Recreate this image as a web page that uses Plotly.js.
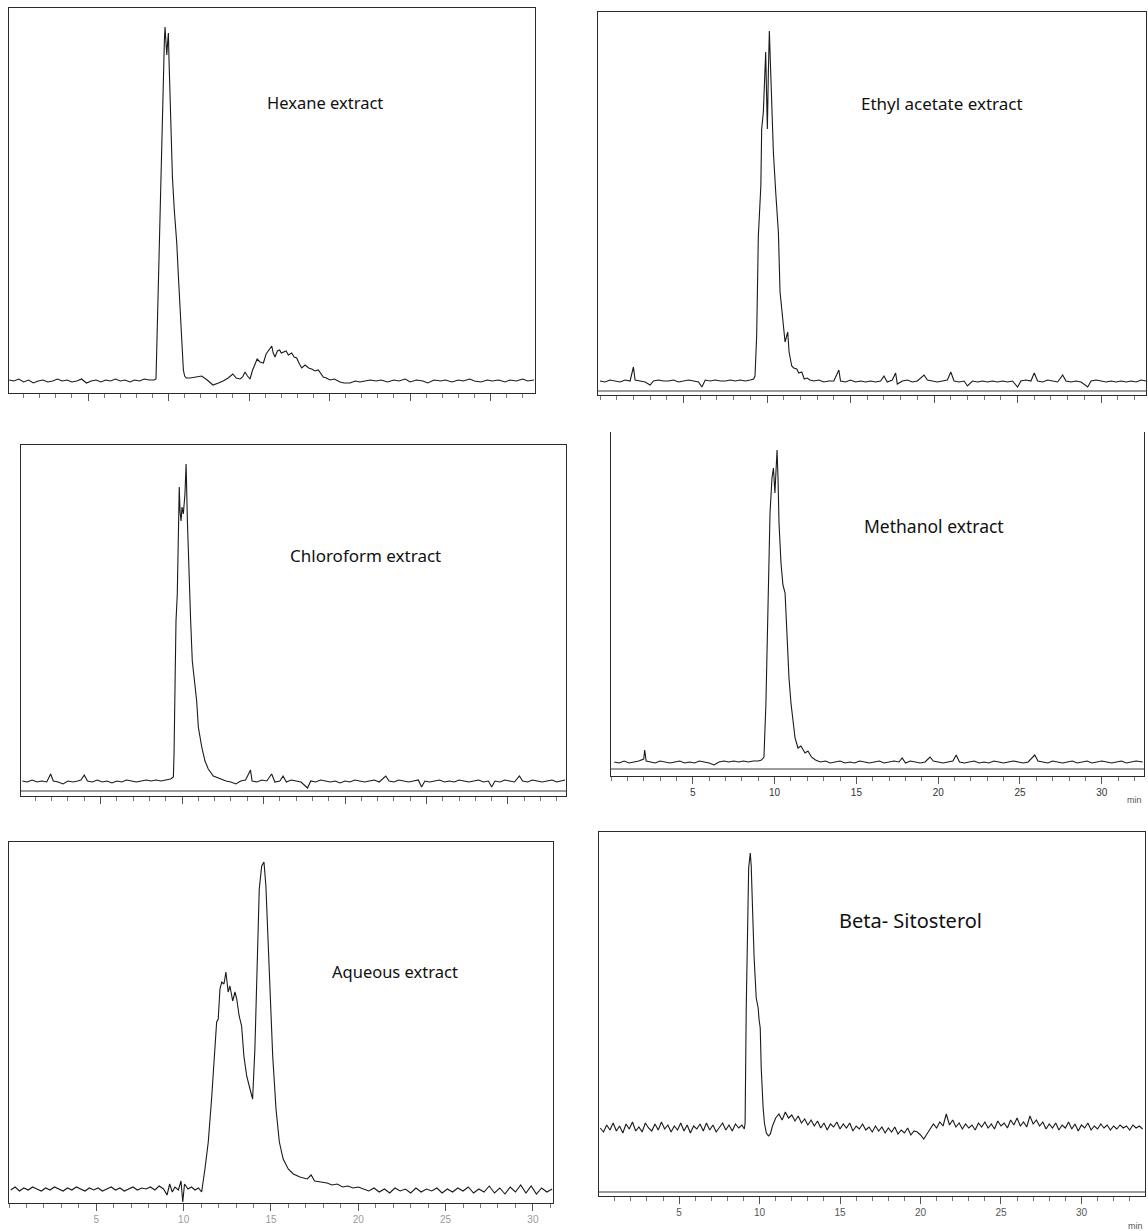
<!DOCTYPE html>
<html>
<head>
<meta charset="utf-8">
<script src="https://cdn.plot.ly/plotly-3.0.1.min.js"></script>
<style>
html,body{margin:0;padding:0;background:#fff;}
#chart{width:1148px;height:1231px;}
</style>
</head>
<body>
<div id="chart"></div>
<script>
// ---------- DATA (retention time in min, detector signal in arbitrary units above baseline) ----------
var panelTitles = ["Hexane extract", "Ethyl acetate extract", "Chloroform extract", "Methanol extract", "Aqueous extract", "Beta- Sitosterol"];
var timeTickLabels = ["5", "10", "15", "20", "25", "30"];
var timeTickValues = [5, 10, 15, 20, 25, 30];

var hexaneTime = [0.1,0.4,0.7,1.0,1.3,1.6,1.9,2.2,2.5,2.8,3.1,3.4,3.7,4.0,4.3,4.6,4.9,5.2,5.5,5.8,6.1,6.4,6.7,7.0,7.3,7.6,7.9,8.2,8.5,8.8,9.1,
  9.22,9.28,9.37,9.45,9.52,9.62,9.68,9.74,9.78,9.84,9.89,9.94,9.99,10.03,10.09,10.16,10.24,10.36,10.51,10.61,10.71,10.77,10.82,10.92,11.0,11.1,
  11.34,11.7,12.06,12.4,12.76,13.1,13.39,13.7,13.99,14.2,14.44,14.6,14.75,14.9,15.06,15.2,15.37,15.5,15.68,15.89,16.06,16.2,16.41,16.5,16.61,16.76,16.9,17.0,17.13,17.3,17.44,17.65,17.8,17.96,18.1,18.27,18.48,18.7,18.89,19.1,19.3,19.45,19.61,19.8,20.03,20.3,20.65,20.9,21.27,21.6,21.89,22.2,22.52,
  22.9,23.2,23.6,24.0,24.3,24.7,25.0,25.4,25.8,26.1,26.5,26.9,27.2,27.6,28.0,28.3,28.7,29.0,29.4,29.8,30.1,30.5,30.9,31.2,31.6,32.0,32.3,32.7];
var hexaneSignal = [1,0,2,-1,1,-2,0,1,-1,0,2,0,1,-1,0,2,-2,0,1,-1,1,0,2,0,1,-1,1,0,2,1,1,
  2,40,104,160,204,271,321,340,354,335,326,338,348,320,278,240,204,170,138,105,71,50,31,11,5,3,
  3,4,5,1,-4,-2,0,3,7,3,2,4,9,5,2,10,18,22,19,18,27,30,35,28,24,30,31,28,29,30,26,28,24,23,18,13,16,13,12,10,11,7,4,3,1,2,-1,-2,-2,0,-1,0,1,
  0,1,-1,1,0,2,-1,1,0,-2,1,0,1,-1,1,0,2,0,-1,1,0,1,-1,1,0,2,0,1];

var ethylTime = [0.0,0.3,0.6,0.9,1.2,1.5,1.8,2.0,2.1,2.4,2.7,3.0,3.2,3.5,3.8,4.1,4.4,4.7,5.0,5.3,5.6,5.9,6.1,6.3,6.6,6.9,7.2,7.5,7.8,8.1,8.4,8.7,9.0,9.2,
  9.28,9.38,9.48,9.58,9.63,9.68,9.78,9.85,9.92,9.97,10.02,10.08,10.14,10.2,10.28,10.38,10.52,10.62,10.68,10.78,10.92,11.08,11.24,11.32,11.48,11.6,11.78,11.9,12.08,12.23,12.4,12.57,
  12.8,13.1,13.4,13.7,14.0,14.3,14.4,14.7,15.0,15.3,15.6,15.9,16.2,16.5,16.8,17.0,17.2,17.5,17.7,17.8,18.1,18.4,18.7,19.0,19.4,19.6,19.9,20.2,20.5,20.8,21.0,21.2,21.5,21.8,22.0,22.3,22.6,22.9,23.2,23.5,23.8,24.1,24.4,24.7,25.0,25.2,25.5,25.8,26.0,26.2,26.5,26.8,27.1,27.4,27.7,27.9,28.2,28.5,28.8,29.2,29.4,29.7,30.0,30.3,30.6,30.9,31.2,31.5,31.8,32.1,32.4,32.7];
var ethylSignal = [1,0,2,1,0,2,1,15,2,1,0,-3,1,2,1,1,2,0,1,2,1,0,-5,2,1,2,1,1,2,1,2,1,2,3,
  6,46,146,176,196,253,270,300,330,290,253,310,351,320,280,230,190,163,150,90,63,40,50,30,16,14,13,9,10,3,4,2,
  1,2,0,1,1,12,1,0,2,0,1,0,1,0,1,6,0,2,9,-2,1,2,0,1,7,2,1,0,1,2,10,1,0,1,-4,1,0,1,0,1,0,1,0,1,-5,1,2,1,9,1,0,2,1,0,7,1,0,1,0,-5,1,2,1,0,1,0,1,0,1,0,2,1];

var chloroformTime = [0.2,0.5,0.8,1.1,1.4,1.7,1.94,2.1,2.4,2.7,3.0,3.3,3.6,3.8,4.0,4.2,4.5,4.8,5.1,5.4,5.7,6.0,6.3,6.6,6.9,7.2,7.5,7.8,8.1,8.4,8.7,9.0,9.3,9.47,
  9.51,9.57,9.63,9.71,9.77,9.83,9.88,9.94,10.0,10.08,10.18,10.25,10.33,10.41,10.53,10.63,10.8,10.9,11.0,11.21,11.41,11.61,11.92,12.33,
  12.7,13.0,13.3,13.6,13.9,14.2,14.3,14.6,14.9,15.2,15.5,15.7,16.0,16.2,16.4,16.7,17.0,17.3,17.7,17.9,18.2,18.5,18.8,19.1,19.4,19.7,20.0,20.3,20.6,20.9,21.2,21.5,21.8,22.1,22.5,22.7,23.0,23.3,23.6,23.9,24.2,24.5,24.7,24.9,25.2,25.5,25.8,26.1,26.4,26.7,27.0,27.3,27.6,27.9,28.2,28.5,28.8,29.0,29.2,29.5,29.8,30.1,30.4,30.7,30.9,31.2,31.5,31.8,32.1,32.4,32.7,33.0,33.3,33.5];
var chloroformSignal = [1,0,2,0,1,0,8,1,0,-2,1,0,1,2,7,1,0,2,0,1,-1,1,0,2,1,0,1,2,1,2,1,2,3,5,
  28,95,161,188,235,295,270,261,275,268,288,318,261,211,161,121,95,81,55,35,21,13,6,3,
  1,0,-2,1,2,12,1,0,2,1,8,0,1,6,0,2,1,0,-6,1,0,2,1,0,1,-1,1,0,2,1,0,1,2,0,6,1,0,2,1,0,1,2,-5,1,0,1,2,0,1,0,2,1,0,1,2,0,1,-5,1,0,2,1,0,6,1,0,2,1,0,1,2,0,1,2];

var methanolTime = [0.2,0.5,0.8,1.1,1.4,1.7,2.0,2.06,2.15,2.4,2.7,3.0,3.3,3.6,3.9,4.2,4.5,4.8,5.1,5.4,5.7,6.0,6.3,6.6,6.9,7.2,7.5,7.8,8.1,8.4,8.7,9.0,9.2,
  9.35,9.47,9.6,9.72,9.84,9.93,10.02,10.09,10.15,10.21,10.27,10.39,10.51,10.64,10.76,10.88,11.0,11.12,11.25,11.43,11.61,11.86,12.04,12.25,12.5,
  12.8,13.1,13.4,13.7,14.0,14.3,14.6,14.9,15.2,15.5,15.8,16.1,16.4,16.7,17.0,17.3,17.6,17.8,18.0,18.3,18.6,18.9,19.2,19.5,19.7,20.0,20.3,20.6,20.9,21.1,21.3,21.6,21.9,22.2,22.5,22.8,23.1,23.4,23.7,24.0,24.3,24.6,24.9,25.2,25.5,25.9,26.1,26.4,26.7,27.0,27.3,27.6,27.9,28.2,28.5,28.8,29.1,29.4,29.7,30.0,30.3,30.6,30.9,31.2,31.5,31.8,32.1,32.5];
var methanolSignal = [1,0,2,0,1,2,4,13,2,1,0,2,1,0,1,2,0,1,0,2,1,0,-2,1,2,1,2,1,2,1,2,2,3,
  6,60,170,250,285,295,270,290,313,285,240,200,178,170,120,85,60,45,25,15,17,10,12,6,3,
  1,2,0,1,2,0,1,0,2,1,0,1,2,0,1,2,1,5,0,2,1,0,1,6,2,1,0,1,2,8,1,0,1,2,0,1,0,2,1,0,1,2,1,0,1,8,2,1,0,2,1,0,1,2,0,1,2,0,1,2,1,0,1,2,0,1,2,1];

var aqueousTime = [0.1,0.35,0.6,0.85,1.1,1.35,1.6,1.85,2.1,2.35,2.6,2.85,3.1,3.35,3.6,3.85,4.1,4.35,4.6,4.85,5.1,5.35,5.6,5.85,6.1,6.35,6.6,6.85,7.1,7.35,7.6,7.85,8.1,8.35,8.6,8.85,9.05,9.2,9.35,9.5,9.7,9.85,9.95,10.05,10.25,10.45,10.65,10.85,11.03,
  11.22,11.41,11.6,11.74,11.89,11.98,12.08,12.18,12.31,12.42,12.55,12.65,12.81,12.94,13.04,13.18,13.32,13.45,13.61,13.8,13.95,14.08,14.22,14.33,14.47,14.6,14.71,14.81,14.94,15.1,15.29,15.48,15.7,15.99,16.28,16.66,17.08,17.3,17.5,17.8,18.21,18.5,18.8,19.1,19.4,19.7,20.0,20.3,
  20.6,20.9,21.2,21.5,21.8,22.1,22.4,22.7,23.0,23.3,23.6,23.9,24.2,24.5,24.8,25.1,25.4,25.7,26.0,26.3,26.6,26.9,27.2,27.5,27.8,28.1,28.4,28.7,29.0,29.3,29.6,29.9,30.2,30.5,30.8,31.1];
var aqueousSignal = [0,3,-1,2,0,3,1,-1,2,0,3,1,-1,2,0,3,1,-1,2,0,2,-1,1,3,0,2,-1,1,3,0,2,1,3,0,4,1,-5,6,-2,3,0,9,-12,6,1,3,0,2,-2,
  21,48,91,128,168,171,201,208,206,218,198,204,189,198,191,174,164,134,114,101,91,141,221,301,324,328,304,258,201,134,81,48,31,21,16,13,11,15,9,8,7,5,6,3,4,2,3,1,
  -1,2,-2,1,-3,2,-1,1,-3,2,-2,1,-1,2,-3,1,-2,2,-1,3,-3,1,-2,4,-3,2,-4,3,-2,5,-3,4,-4,2,-2,1];

var betaTime = [0.1,0.3,0.5,0.7,0.9,1.1,1.3,1.5,1.7,1.9,2.1,2.3,2.5,2.7,2.9,3.1,3.3,3.5,3.7,3.9,4.1,4.3,4.5,4.7,4.9,5.1,5.3,5.5,5.7,5.9,6.1,6.3,6.5,6.7,6.9,7.1,7.3,7.5,7.7,7.9,8.1,8.3,8.5,8.7,8.9,9.05,
  9.1,9.17,9.23,9.32,9.42,9.48,9.54,9.66,9.79,9.85,9.91,9.97,10.04,10.1,10.16,10.22,10.3,10.42,10.55,10.67,
  10.8,11.0,11.2,11.4,11.6,11.8,12.0,12.2,12.4,12.6,12.8,13.0,13.2,13.4,13.6,13.8,14.0,14.2,14.4,14.6,14.8,15.0,15.2,15.4,15.6,15.8,16.0,16.2,16.4,16.6,16.8,17.0,17.2,17.4,17.6,17.8,18.0,18.2,18.4,18.6,18.8,19.0,19.2,19.4,19.6,19.8,20.0,20.2,20.4,20.6,20.8,21.0,21.2,21.4,21.6,21.8,22.0,22.2,22.4,22.6,22.8,23.0,23.2,23.4,23.6,23.8,24.0,24.2,24.4,24.6,24.8,25.0,25.2,25.4,25.6,25.8,26.0,26.2,26.4,26.6,26.8,27.0,27.2,27.4,27.6,27.8,28.0,28.2,28.4,28.6,28.8,29.0,29.2,29.4,29.6,29.8,30.0,30.2,30.4,30.6,30.8,31.0,31.2,31.4,31.6,31.8,32.0,32.2,32.4,32.6,32.8,33.0,33.2,33.4,33.6,33.8];
var betaSignal = [0,-4,3,-2,5,-3,2,-5,4,-1,6,-3,1,-4,5,0,-3,4,-2,6,-1,3,-4,2,-2,5,-3,3,-5,2,-1,4,-3,5,-2,3,-4,1,5,-2,3,-3,4,0,3,-1,
  5,120,200,260,275,262,230,170,130,125,120,108,100,60,35,20,5,-5,-8,-6,
  2,10,14,8,16,10,13,7,12,5,9,3,8,2,7,0,5,-2,4,1,6,-1,4,0,5,-3,2,-1,4,-2,1,-4,2,-3,1,-5,0,-4,1,-6,-2,-5,0,-7,-3,-4,-7,-11,-6,-1,4,0,6,2,14,3,8,1,5,-1,4,0,3,-2,5,1,6,0,4,-1,7,2,5,0,8,3,10,2,6,1,12,4,8,2,6,-1,4,0,5,-2,3,0,6,-1,4,-3,3,0,5,-2,2,-1,4,0,3,-2,2,-1,3,0,2,-2,3,0,2,-1];

// ---------- LAYOUT GEOMETRY ----------
var W = 1148, H = 1231;
// plot boxes in page pixels: [left, right, top, bottom]
var boxes = [
  [9, 535, 8, 393],
  [598, 1146, 12, 395],
  [21, 566, 445, 796],
  [611, 1144, 432, 776],
  [9, 553, 842, 1203],
  [599, 1145, 832, 1196]
];
var xRanges = [[0.09, 32.76], [-0.12, 32.69], [0.12, 33.56], [0, 32.58], [0, 31.15], [0.02, 33.95]];
var yRanges = [[-12, 373], [-13, 370], [-14, 337], [-13, 331], [-13, 348], [-68, 296]];
var innerLine = [null, -9, -9, -6, null, -64];
var showLabels = [false, false, false, true, true, true];
var labelColor = [null, null, null, "#333", "#9a9a9a", "#555"];
var titlePos = [[325, 103], [942, 104], [365, 556], [934, 526], [395, 971], [910, 920]];
var titleSize = [16.5, 17, 17, 17.5, 16.5, 20];

var times = [hexaneTime, ethylTime, chloroformTime, methanolTime, aqueousTime, betaTime];
var signals = [hexaneSignal, ethylSignal, chloroformSignal, methanolSignal, aqueousSignal, betaSignal];

var traces = [];
var layout = {
  width: W, height: H,
  margin: {l: 0, r: 0, t: 0, b: 0, pad: 0},
  paper_bgcolor: "#fff", plot_bgcolor: "#fff",
  showlegend: false,
  font: {family: "Noto Sans, Open Sans, sans-serif", color: "#111"},
  shapes: [], annotations: []
};

for (var i = 0; i < 6; i++) {
  var n = i + 1;
  var xa = "xaxis" + (n === 1 ? "" : n), ya = "yaxis" + (n === 1 ? "" : n);
  var xr = "x" + (n === 1 ? "" : n), yr = "y" + (n === 1 ? "" : n);
  var b = boxes[i];
  traces.push({
    type: "scatter", mode: "lines",
    x: times[i], y: signals[i],
    xaxis: xr, yaxis: yr,
    line: {color: "#1a1a1a", width: 1.1},
    hoverinfo: "skip"
  });
  layout[xa] = {
    domain: [b[0] / W, b[1] / W],
    range: xRanges[i],
    anchor: yr,
    showgrid: false, zeroline: false,
    showline: true, mirror: (i !== 3), linecolor: "#2b2b2b", linewidth: 1.3,
    ticks: "outside", ticklen: 7, tickwidth: 1, tickcolor: "#555",
    tickmode: "array", tickvals: timeTickValues, ticktext: timeTickLabels,
    showticklabels: showLabels[i],
    tickfont: {size: 10, color: labelColor[i] || "#333", family: "Liberation Sans, Arial, sans-serif"},
    minor: {dtick: 1, tick0: 0, ticks: "outside", ticklen: 4, tickcolor: "#777", tickwidth: 1},
    fixedrange: true
  };
  layout[ya] = {
    domain: [1 - b[3] / H, 1 - b[2] / H],
    range: yRanges[i],
    anchor: xr,
    showgrid: false, zeroline: false,
    showline: true, mirror: true, linecolor: "#2b2b2b", linewidth: 1.3,
    ticks: "", showticklabels: false,
    fixedrange: true
  };
  if (innerLine[i] !== null) {
    layout.shapes.push({
      type: "line", xref: xr + " domain", yref: yr,
      x0: 0, x1: 1, y0: innerLine[i], y1: innerLine[i],
      line: {color: "#3a3a3a", width: 1.2}
    });
  }
  layout.annotations.push({
    xref: "paper", yref: "paper",
    x: titlePos[i][0] / W, y: 1 - titlePos[i][1] / H,
    xanchor: "center", yanchor: "middle",
    text: panelTitles[i], showarrow: false,
    font: {size: titleSize[i], color: "#111", family: "Noto Sans, Open Sans, sans-serif"}
  });
}
// unit labels
layout.annotations.push({xref: "paper", yref: "paper", x: 1134 / W, y: 1 - 800 / H, xanchor: "center", yanchor: "middle",
  text: "min", showarrow: false, font: {size: 9, color: "#555", family: "Liberation Sans, Arial, sans-serif"}});
layout.annotations.push({xref: "paper", yref: "paper", x: 1135 / W, y: 1 - 1226 / H, xanchor: "center", yanchor: "middle",
  text: "min", showarrow: false, font: {size: 9, color: "#555", family: "Liberation Sans, Arial, sans-serif"}});

Plotly.newPlot("chart", traces, layout, {staticPlot: true, displayModeBar: false});
</script>
</body>
</html>
